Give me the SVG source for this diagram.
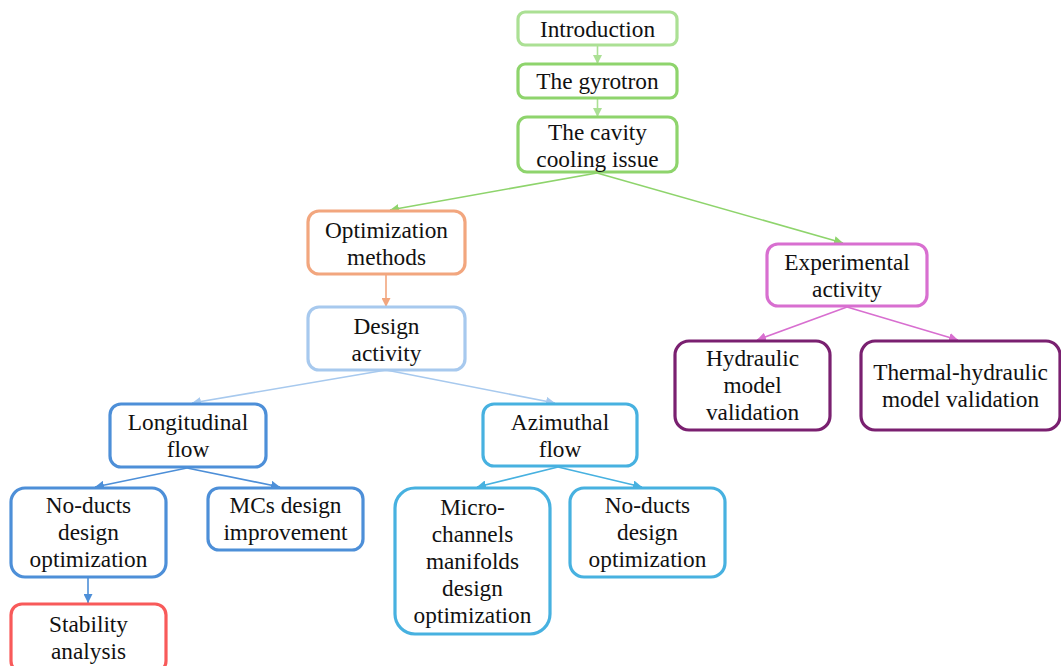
<svg xmlns="http://www.w3.org/2000/svg" width="1061" height="666" viewBox="0 0 1061 666">
<defs>
<style>
.box{fill:#fff;stroke-width:3.2}
.t{font-family:'Liberation Serif','Times New Roman',Times,'DejaVu Serif',serif;font-size:23.3px;fill:#111;text-anchor:middle}
.c{fill:none;stroke-width:1.6}
</style>
<marker id="m-lg" viewBox="0 0 10 10" refX="10" refY="5" markerWidth="9" markerHeight="9" markerUnits="userSpaceOnUse" orient="auto"><path d="M0,0L10,5L0,10z" fill="#abe094"/></marker>
<marker id="m-g" viewBox="0 0 10 10" refX="10" refY="5" markerWidth="9" markerHeight="9" markerUnits="userSpaceOnUse" orient="auto"><path d="M0,0L10,5L0,10z" fill="#8ed46c"/></marker>
<marker id="m-o" viewBox="0 0 10 10" refX="10" refY="5" markerWidth="9" markerHeight="9" markerUnits="userSpaceOnUse" orient="auto"><path d="M0,0L10,5L0,10z" fill="#f2a67e"/></marker>
<marker id="m-lb" viewBox="0 0 10 10" refX="10" refY="5" markerWidth="9" markerHeight="9" markerUnits="userSpaceOnUse" orient="auto"><path d="M0,0L10,5L0,10z" fill="#a7c9ee"/></marker>
<marker id="m-b" viewBox="0 0 10 10" refX="10" refY="5" markerWidth="9" markerHeight="9" markerUnits="userSpaceOnUse" orient="auto"><path d="M0,0L10,5L0,10z" fill="#4d8fd8"/></marker>
<marker id="m-c" viewBox="0 0 10 10" refX="10" refY="5" markerWidth="9" markerHeight="9" markerUnits="userSpaceOnUse" orient="auto"><path d="M0,0L10,5L0,10z" fill="#47b1e0"/></marker>
<marker id="m-p" viewBox="0 0 10 10" refX="10" refY="5" markerWidth="9" markerHeight="9" markerUnits="userSpaceOnUse" orient="auto"><path d="M0,0L10,5L0,10z" fill="#d86fd0"/></marker>
</defs>
<rect width="1061" height="666" fill="#fff"/>
<g id="connectors" class="c">
<line x1="597.5" y1="46" x2="597.5" y2="64" stroke="#abe094" marker-end="url(#m-lg)"/>
<line x1="597.5" y1="98" x2="597.5" y2="117" stroke="#abe094" marker-end="url(#m-lg)"/>
<line x1="597" y1="173" x2="390" y2="210" stroke="#8ed46c" marker-end="url(#m-g)"/>
<line x1="597" y1="173" x2="843" y2="243" stroke="#8ed46c" marker-end="url(#m-g)"/>
<line x1="386" y1="275" x2="386" y2="307" stroke="#f2a67e" marker-end="url(#m-o)"/>
<line x1="386" y1="370" x2="192" y2="403" stroke="#a7c9ee" marker-end="url(#m-lb)"/>
<line x1="386" y1="370" x2="555" y2="403" stroke="#a7c9ee" marker-end="url(#m-lb)"/>
<line x1="847" y1="307" x2="757" y2="340" stroke="#d86fd0" marker-end="url(#m-p)"/>
<line x1="847" y1="307" x2="958" y2="340" stroke="#d86fd0" marker-end="url(#m-p)"/>
<line x1="187" y1="468" x2="95" y2="487" stroke="#4d8fd8" marker-end="url(#m-b)"/>
<line x1="187" y1="468" x2="280" y2="487" stroke="#4d8fd8" marker-end="url(#m-b)"/>
<line x1="88" y1="578" x2="88" y2="603" stroke="#4d8fd8" marker-end="url(#m-b)"/>
<line x1="558" y1="467" x2="477" y2="487" stroke="#47b1e0" marker-end="url(#m-c)"/>
<line x1="558" y1="467" x2="642" y2="487" stroke="#47b1e0" marker-end="url(#m-c)"/>
</g>
<g id="introduction">
<rect class="box" x="518" y="12" width="159" height="33" rx="7" stroke="#abe094"/>
<text class="t" x="597.5" y="36.5">Introduction</text>
</g>
<g id="gyrotron">
<rect class="box" x="518" y="64" width="159" height="34" rx="7" stroke="#8ed46c"/>
<text class="t" x="597.5" y="89">The gyrotron</text>
</g>
<g id="cavity">
<rect class="box" x="518" y="117" width="159" height="55" rx="9" stroke="#8ed46c"/>
<text class="t" x="597.5" y="140">The cavity</text>
<text class="t" x="597.5" y="167">cooling issue</text>
</g>
<g id="optimization">
<rect class="box" x="308" y="211" width="157" height="63" rx="11" stroke="#f2a67e"/>
<text class="t" x="386.5" y="237.5">Optimization</text>
<text class="t" x="386.5" y="264.5">methods</text>
</g>
<g id="design">
<rect class="box" x="308" y="307" width="157" height="63" rx="11" stroke="#a7c9ee"/>
<text class="t" x="386.5" y="333.5">Design</text>
<text class="t" x="386.5" y="360.5">activity</text>
</g>
<g id="experimental">
<rect class="box" x="767" y="244" width="160" height="62" rx="11" stroke="#d86fd0"/>
<text class="t" x="847" y="270">Experimental</text>
<text class="t" x="847" y="297">activity</text>
</g>
<g id="hydraulic">
<rect class="box" x="675" y="341" width="155" height="89" rx="14" stroke="#7a2070"/>
<text class="t" x="752.5" y="366">Hydraulic</text>
<text class="t" x="752.5" y="393">model</text>
<text class="t" x="752.5" y="420">validation</text>
</g>
<g id="thermal-hydraulic">
<rect class="box" x="861" y="341" width="199" height="89" rx="14" stroke="#7a2070"/>
<text class="t" x="960.5" y="379.5">Thermal-hydraulic</text>
<text class="t" x="960.5" y="406.5">model validation</text>
</g>
<g id="longitudinal">
<rect class="box" x="110" y="404" width="156" height="63" rx="11" stroke="#4d8fd8"/>
<text class="t" x="188" y="430">Longitudinal</text>
<text class="t" x="188" y="457">flow</text>
</g>
<g id="azimuthal">
<rect class="box" x="483" y="404" width="154" height="62" rx="11" stroke="#47b1e0"/>
<text class="t" x="560" y="429.5">Azimuthal</text>
<text class="t" x="560" y="456.5">flow</text>
</g>
<g id="noducts-left">
<rect class="box" x="11" y="488" width="155" height="89" rx="14" stroke="#4d8fd8"/>
<text class="t" x="88.5" y="513">No-ducts</text>
<text class="t" x="88.5" y="540">design</text>
<text class="t" x="88.5" y="567">optimization</text>
</g>
<g id="mcs">
<rect class="box" x="208" y="488" width="155" height="62" rx="11" stroke="#4d8fd8"/>
<text class="t" x="285.5" y="513">MCs design</text>
<text class="t" x="285.5" y="540">improvement</text>
</g>
<g id="microchannels">
<rect class="box" x="395" y="488" width="155" height="146" rx="20" stroke="#47b1e0"/>
<text class="t" x="472.5" y="514.5">Micro-</text>
<text class="t" x="472.5" y="541.5">channels</text>
<text class="t" x="472.5" y="568.5">manifolds</text>
<text class="t" x="472.5" y="595.5">design</text>
<text class="t" x="472.5" y="622.5">optimization</text>
</g>
<g id="noducts-right">
<rect class="box" x="570" y="488" width="155" height="89" rx="14" stroke="#47b1e0"/>
<text class="t" x="647.5" y="513">No-ducts</text>
<text class="t" x="647.5" y="540">design</text>
<text class="t" x="647.5" y="567">optimization</text>
</g>
<g id="stability">
<rect class="box" x="11" y="604" width="155" height="68" rx="11" stroke="#f85a5a"/>
<text class="t" x="88.5" y="631.5">Stability</text>
<text class="t" x="88.5" y="658.5">analysis</text>
</g>
</svg>
